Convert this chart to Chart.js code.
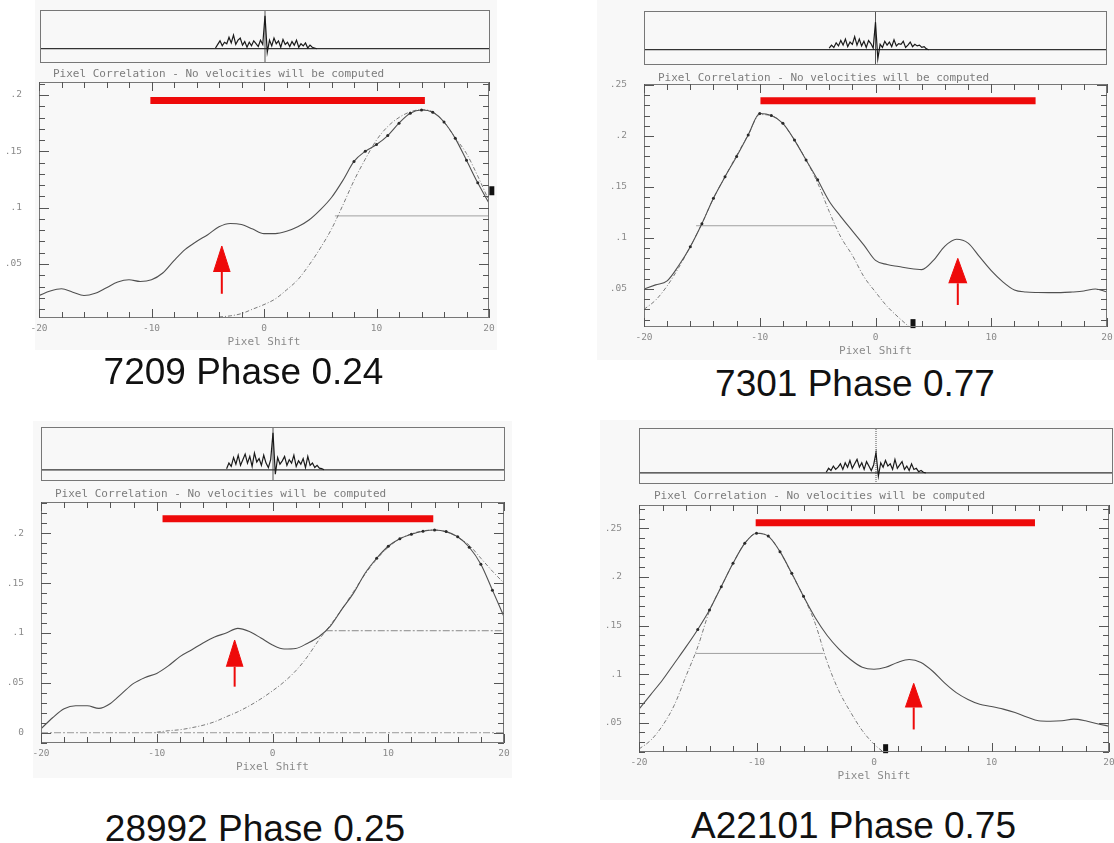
<!DOCTYPE html>
<html>
<head>
<meta charset="utf-8">
<script src="https://cdn.jsdelivr.net/npm/chart.js"></script>
<style>
  html, body { margin: 0; padding: 0; background: #fff; }
  body { width: 1114px; height: 843px; position: relative; overflow: hidden; }
  canvas { position: absolute; }
  .bg { position: absolute; background: #f8f8f8; }
  .ttl { position: absolute; font: 11px "DejaVu Sans Mono", monospace; line-height: 13px; color: #7c7c7c; white-space: pre; }
  .cap { position: absolute; font: 37px "Liberation Sans", Arial, sans-serif; line-height: 37px; color: #111; white-space: nowrap; transform: translateX(-50%); }
</style>
</head>
<body>
<script>
// x grid of the correlation curves (pixel shift)
const pixelShift = [-20, -19, -18, -17, -16, -15, -14, -13, -12, -11, -10, -9, -8, -7, -6, -5, -4, -3, -2, -1,
  0, 1, 2, 3, 4, 5, 6, 7, 8, 9, 10, 11, 12, 13, 14, 15, 16, 17, 18, 19, 20];
const xTicks = [-20, -10, 0, 10, 20];

// 7209 Phase 0.24
const p1Corr = [.022, .026, .028, .025, .022, .024, .029, .034, .036, .0345, .036, .042, .053, .063, .070, .076, .083, .086, .085, .081,
  .077, .077, .079, .083, .089, .098, .109, .124, .141, .150, .156, .164, .175, .1837, .1867, .1846, .176, .1615, .142, .122, .104];
const p1Fit = [null, null, null, null, null, null, null, null, null, null, null, null, null, null, null, null,
  .003, .004, .006, .010, .014, .019, .027, .036, .049, .064, .081, .102, .124, .143, .160, .172, .180, .185, .187, .185, .176, .162, .148, .128, .106];
const p1Dots = [8, 19];
const p1HalfX = [6.3, 20], p1HalfY = 0.0927;
const p1BarX = [-10.1, 14.3], p1BarY = 0.195;
const p1Arrow = [-3.75, 0.0236, 0.0429, 0.066];
const p1Mark = [20.25, 0.115];
const p1YTicks = [.05, .1, .15, .2];
const p1Noise = [0.05, 0.3, 0.55, 0.2, 0.45, 0.35, 0.8, 0.4, 0.95, 0.3, 0.6, 0.75, 0.25, 0.5, 0.1, 0.45, 0.2, 0.55, 0.35, 0.15, 0.6, 0.3,
  2.3, -0.25, 0.6, 0.2, 0.75, 0.35, 0.55, 0.1, 0.65, 0.3, 0.45, 0.15, 0.5, 0.25, 0.6, 0.1, 0.35, 0.2, 0.4, 0.05, 0.25, 0.1, 0.05, 0];
const p1NoiseStart = -11;

// 7301 Phase 0.77
const p2Corr = [.050, .054, .058, .073, .0915, .114, .139, .160, .180, .201, .222, .220, .2124, .196, .1765, .157, .136, .121, .107, .093,
  .078, .074, .072, .070, .069, .078, .092, .0987, .095, .0814, .068, .057, .049, .047, .0465, .0464, .0464, .047, .048, .050, .047];
const p2Fit = [.030, .039, .053, .071, .0915, .114, .139, .160, .181, .201, .221, .220, .212, .196, .1765, .154, .126, .101, .083, .062,
  .047, .033, .022, .012, null, null, null, null, null, null, null, null, null, null, null, null, null, null, null, null, null];
const p2Dots = [-16, -5];
const p2HalfX = [-15.5, -3.5], p2HalfY = 0.112;
const p2BarX = [-9.94, 13.83], p2BarY = 0.2346;
const p2Arrow = [7.11, 0.0343, 0.0556, 0.080];
const p2Mark = [3.24, 0.016];
const p2YTicks = [.05, .1, .15, .2, .25];
const p2Noise = [0.1, 0.3, 0.15, 0.45, 0.25, 0.6, 0.3, 0.7, 0.2, 0.5, 0.35, 0.85, 0.3, 0.7, 0.25, 0.55, 0.15, 0.6, 0.4, 0.1,
  1.8, -0.6, 0.35, 0.15, 0.55, 0.3, 0.5, 0.2, 0.65, 0.25, 0.4, 0.35, 0.55, 0.15, 0.3, 0.5, 0.2, 0.35, 0.25, 0.3, 0.15, 0.2, 0.05, 0];
const p2NoiseStart = -10;

// 28992 Phase 0.25
const p3Corr = [.004, .015, .024, .027, .027, .0244, .0294, .0395, .0495, .0555, .0595, .067, .0763, .083, .090, .096, .100, .1047, .1015, .095,
  .088, .084, .0845, .0896, .0963, .107, .124, .140, .160, .175, .187, .1945, .199, .202, .2033, .2017, .1965, .186, .169, .143, .1164];
const p3Fit = [null, null, null, null, null, null, null, null, null, null,
  .0005, .002, .003, .005, .0075, .011, .016, .021, .027, .034, .042, .051, .062, .076, .093, .108, .124, .1415, .159, .174, .186,
  .1945, .1995, .2025, .2033, .2015, .196, .188, .175, .162, .150];
const p3Dots = [9, 19];
const p3HalfX = [4.6, 20], p3HalfY = 0.1023;
const p3BarX = [-9.5, 13.89], p3BarY = 0.2147;
const p3Arrow = [-3.27, 0.0462, 0.0662, 0.093];
const p3Mark = null;
const p3YTicks = [0, .05, .1, .15, .2];
const p3Noise = [0.1, 0.6, 0.3, 1.1, 0.5, 1.3, 0.4, 0.9, 1.4, 0.6, 1.2, 0.3, 1.5, 0.7, 1.0, 0.4, 1.3, 0.6, 0.2, 0.9,
  3.3, -0.4, 1.1, 0.5, 0.8, 1.2, 0.4, 0.9, 0.6, 1.3, 0.3, 0.8, 0.5, 1.0, 0.2, 1.2, 0.4, 0.6, 0.2, 0.4, 0.15, 0.1, 0];
const p3NoiseStart = -10;

// A22101 Phase 0.75
const p4Corr = [.064, .079, .094, .111, .128, .146, .166, .190, .214, .2346, .245, .242, .226, .2037, .180, .158, .140, .126, .115, .107,
  .105, .107, .112, .115, .112, .103, .091, .081, .074, .069, .0667, .064, .0605, .056, .052, .0515, .052, .0537, .052, .049, .0465];
const p4Fit = [.023, .032, .047, .068, .098, .128, .165, .190, .214, .2346, .245, .242, .226, .203, .180, .152, .113, .083, .061, .042,
  .028, .018, null, null, null, null, null, null, null, null, null, null, null, null, null, null, null, null, null, null, null];
const p4Dots = [-15, -6];
const p4HalfX = [-15.2, -4.3], p4HalfY = 0.1213;
const p4BarX = [-10.07, 13.7], p4BarY = 0.2558;
const p4Arrow = [3.38, 0.0431, 0.0658, 0.0905];
const p4Mark = [0.99, 0.0233];
const p4YTicks = [.05, .1, .15, .2, .25];
const p4Noise = [0.05, 0.4, 0.2, 0.6, 0.3, 0.5, 0.8, 0.3, 0.9, 0.5, 1.1, 0.4, 0.8, 1.2, 0.5, 0.9, 0.3, 1.0, 0.6, 0.2, 0.7,
  1.8, -0.3, 0.9, 0.5, 1.1, 0.6, 0.8, 0.3, 1.2, 0.4, 0.7, 1.0, 0.3, 0.6, 0.2, 0.8, 0.3, 0.4, 0.1, 0.2, 0.05, 0];
const p4NoiseStart = -10.5;

const titleText = "Pixel Correlation - No velocities will be computed";
const captions = ["7209 Phase 0.24", "7301 Phase 0.77", "28992 Phase 0.25", "A22101 Phase 0.75"];

const panels = [
  {corr: p1Corr, fit: p1Fit, dots: p1Dots, halfX: p1HalfX, halfY: p1HalfY, barX: p1BarX, barY: p1BarY,
    arrow: p1Arrow, mark: p1Mark, yTicks: p1YTicks, noise: p1Noise, noiseStart: p1NoiseStart},
  {corr: p2Corr, fit: p2Fit, dots: p2Dots, halfX: p2HalfX, halfY: p2HalfY, barX: p2BarX, barY: p2BarY,
    arrow: p2Arrow, mark: p2Mark, yTicks: p2YTicks, noise: p2Noise, noiseStart: p2NoiseStart},
  {corr: p3Corr, fit: p3Fit, dots: p3Dots, halfX: p3HalfX, halfY: p3HalfY, barX: p3BarX, barY: p3BarY,
    arrow: p3Arrow, mark: p3Mark, yTicks: p3YTicks, noise: p3Noise, noiseStart: p3NoiseStart, zeroLine: true},
  {corr: p4Corr, fit: p4Fit, dots: p4Dots, halfX: p4HalfX, halfY: p4HalfY, barX: p4BarX, barY: p4BarY,
    arrow: p4Arrow, mark: p4Mark, yTicks: p4YTicks, noise: p4Noise, noiseStart: p4NoiseStart},
];

// page geometry (pixels) and axis windows
const layout = [
  {bg: [35, 0, 497, 350], box: [39, 82, 489, 318], yRange: [.0021, .2115], topBox: [40, 10, 489, 62], topY: [-1, 2.71],
    title: [53, 67], cap: [243.5, 353], arrowHalf: 0.74},
  {bg: [597, 0, 1114, 360], box: [644, 84, 1107, 327], yRange: [.0127, .251], topBox: [644, 11, 1106, 64], topY: [-1, 2.53],
    title: [658, 71], cap: [855, 365], arrowHalf: 0.78},
  {bg: [33, 421, 512, 778], box: [41, 502, 504, 743], yRange: [-.0103, .2314], topBox: [41, 427, 504, 480], topY: [-1, 3.82],
    title: [55, 487], cap: [255, 810], arrowHalf: 0.72},
  {bg: [600, 420, 1114, 800], box: [639, 505, 1109, 752], yRange: [.0199, .274], topBox: [639, 428, 1112, 483], topY: [-1, 4.0],
    title: [654, 489], cap: [853.5, 807], arrowHalf: 0.71, dottedCenter: true},
];

const RED = "#ee0a0a";
const LABEL = "#8a8a8a";

// box around the plot area, optionally with inward tick marks, drawn over the data
function frame(withTicks) {
  return {
    id: "frame",
    afterDraw(chart) {
      const ctx = chart.ctx;
      const a = chart.chartArea;
      const x = chart.scales.x, y = chart.scales.y;
      const L = Math.round(a.left), T = Math.round(a.top), R = Math.round(a.right) - 1, B = Math.round(a.bottom) - 1;
      ctx.save();
      ctx.setLineDash([]);
      ctx.fillStyle = "#777";
      ctx.fillRect(L, T, R - L + 1, 1);
      ctx.fillRect(L, B, R - L + 1, 1);
      ctx.fillRect(L, T, 1, B - T + 1);
      ctx.fillRect(R, T, 1, B - T + 1);
      if (withTicks) {
        ctx.fillStyle = "#555";
        const marks = (scale, step, len, horiz) => {
          const k0 = Math.ceil(scale.min / step - 1e-6);
          const k1 = Math.floor(scale.max / step + 1e-6);
          for (let k = k0; k <= k1; k++) {
            const q = Math.round(scale.getPixelForValue(k * step));
            if (horiz) {
              ctx.fillRect(q, B - len + 1, 1, len);
              ctx.fillRect(q, T, 1, len);
            } else {
              ctx.fillRect(L, q, len, 1);
              ctx.fillRect(R - len + 1, q, len, 1);
            }
          }
        };
        marks(x, 2, 6, true);
        marks(x, 10, 9, true);
        marks(y, 0.01, 6, false);
        marks(y, 0.05, 10, false);
      }
      ctx.restore();
    }
  };
}

const fmtY = v => v === 0 ? "0" : String(Math.round(v * 100) / 100).replace("0.", ".");

function addDiv(cls, left, top, text) {
  const d = document.createElement("div");
  d.className = cls;
  d.style.left = left + "px";
  d.style.top = top + "px";
  if (text) d.textContent = text;
  document.body.appendChild(d);
  return d;
}

function addCanvas(left, top, w, h) {
  const cv = document.createElement("canvas");
  cv.width = w; cv.height = h;
  cv.style.left = left + "px"; cv.style.top = top + "px";
  document.body.appendChild(cv);
  return cv;
}

function line(data, color, width, extra) {
  return Object.assign({data, showLine: true, borderColor: color, backgroundColor: color, borderWidth: width,
    pointRadius: 0, pointHoverRadius: 0, fill: false}, extra || {});
}

function mainChart(p, L) {
  // PADT has to cover the y label overflow plus its tick padding
  const PADL = 38, PADT = 30, PADR = 20, PADB = 36;
  const [l, t, r, b] = L.box;
  const cv = addCanvas(l - PADL, t - PADT, r - l + PADL + PADR, b - t + PADT + PADB);
  const pts = ys => pixelShift.map((x, i) => ({x, y: ys[i]})).filter(pt => pt.y !== null);
  const [ax, ay0, ayb, ayt] = p.arrow;
  const hw = L.arrowHalf;

  const datasets = [
    line([{x: p.barX[0], y: p.barY}, {x: p.barX[1], y: p.barY}], RED, 7, {borderCapStyle: "butt"}),
    line([{x: ax - hw, y: ayb}, {x: ax, y: ayt}, {x: ax + hw, y: ayb}], RED, 1, {fill: {value: ayb}}),
    line([{x: ax, y: ay0}, {x: ax, y: ayb}], RED, 2),
  ];
  if (p.mark) {
    datasets.push({data: [{x: p.mark[0], y: p.mark[1]}], showLine: false, pointStyle: "line", rotation: 90,
      pointRadius: 4.5, pointHoverRadius: 0, pointBorderWidth: 5, borderColor: "#111", clip: false});
  }
  datasets.push({data: pts(p.corr).filter(pt => pt.x >= p.dots[0] && pt.x <= p.dots[1]), showLine: false,
    pointRadius: 1.5, pointHoverRadius: 0, pointBorderWidth: 0, backgroundColor: "#2a2a2a"});
  datasets.push(line(pts(p.corr), "#505050", 1.1, {cubicInterpolationMode: "monotone"}));
  datasets.push(line(pts(p.fit), "#7a7a7a", 1, {cubicInterpolationMode: "monotone", borderDash: [4, 2, 1, 2]}));
  datasets.push(line([{x: p.halfX[0], y: p.halfY}, {x: p.halfX[1], y: p.halfY}], p.zeroLine ? "#888" : "#a0a0a0", 1,
    p.zeroLine ? {borderDash: [7, 2, 2, 2]} : {}));
  if (p.zeroLine) {
    datasets.push(line([{x: -20, y: 0}, {x: 20, y: 0}], "#999", 1, {borderDash: [7, 2, 2, 2]}));
  }

  new Chart(cv, {
    type: "scatter",
    data: {datasets},
    plugins: [frame(true)],
    options: {
      responsive: false,
      animation: false,
      events: [],
      layout: {padding: {top: PADT, right: PADR, bottom: 0, left: 0}},
      plugins: {legend: {display: false}, tooltip: {enabled: false}},
      scales: {
        x: {
          type: "linear", min: -20, max: 20,
          afterBuildTicks: s => { s.ticks = xTicks.map(v => ({value: v})); },
          afterFit: s => { s.height = PADB; },
          grid: {display: false, drawTicks: false},
          border: {display: false},
          ticks: {padding: 5, maxRotation: 0, color: LABEL, font: {family: "DejaVu Sans Mono", size: 9.5}},
          title: {display: true, text: "Pixel Shift", color: LABEL, padding: {top: 0, bottom: 5},
            font: {family: "DejaVu Sans Mono", size: 11}}
        },
        y: {
          type: "linear", min: L.yRange[0], max: L.yRange[1],
          afterBuildTicks: s => { s.ticks = p.yTicks.map(v => ({value: v})); },
          afterFit: s => { s.width = PADL; },
          grid: {display: false, drawTicks: false},
          border: {display: false},
          ticks: {padding: 17, color: LABEL, font: {family: "DejaVu Sans Mono", size: 9.5}, callback: fmtY}
        }
      }
    }
  });
}

function topChart(p, L) {
  const [l, t, r, b] = L.topBox;
  const cv = addCanvas(l, t, r - l + 1, b - t + 1);
  const noisePts = p.noise.map((v, i) => ({x: p.noiseStart + i * 0.5, y: v}));
  new Chart(cv, {
    type: "scatter",
    data: {
      datasets: [
        line(noisePts, "#1a1a1a", 1.2),
        line([{x: -50, y: 0}, {x: 50, y: 0}], "#333", 1.3),
        line([{x: 0, y: L.topY[0]}, {x: 0, y: L.topY[1]}], "#555", 1, L.dottedCenter ? {borderDash: [1, 1]} : {}),
      ]
    },
    plugins: [frame(false)],
    options: {
      responsive: false,
      animation: false,
      events: [],
      layout: {padding: 0, autoPadding: false},
      plugins: {legend: {display: false}, tooltip: {enabled: false}},
      scales: {
        x: {type: "linear", display: false, min: -50, max: 50},
        y: {type: "linear", display: false, min: L.topY[0], max: L.topY[1]}
      }
    }
  });
}

panels.forEach((p, i) => {
  const L = layout[i];
  const bg = addDiv("bg", L.bg[0], L.bg[1]);
  bg.style.width = (L.bg[2] - L.bg[0]) + "px";
  bg.style.height = (L.bg[3] - L.bg[1]) + "px";
});
panels.forEach((p, i) => {
  const L = layout[i];
  mainChart(p, L);
  topChart(p, L);
  addDiv("ttl", L.title[0], L.title[1], titleText);
  addDiv("cap", L.cap[0], L.cap[1], captions[i]);
});
</script>
</body>
</html>
